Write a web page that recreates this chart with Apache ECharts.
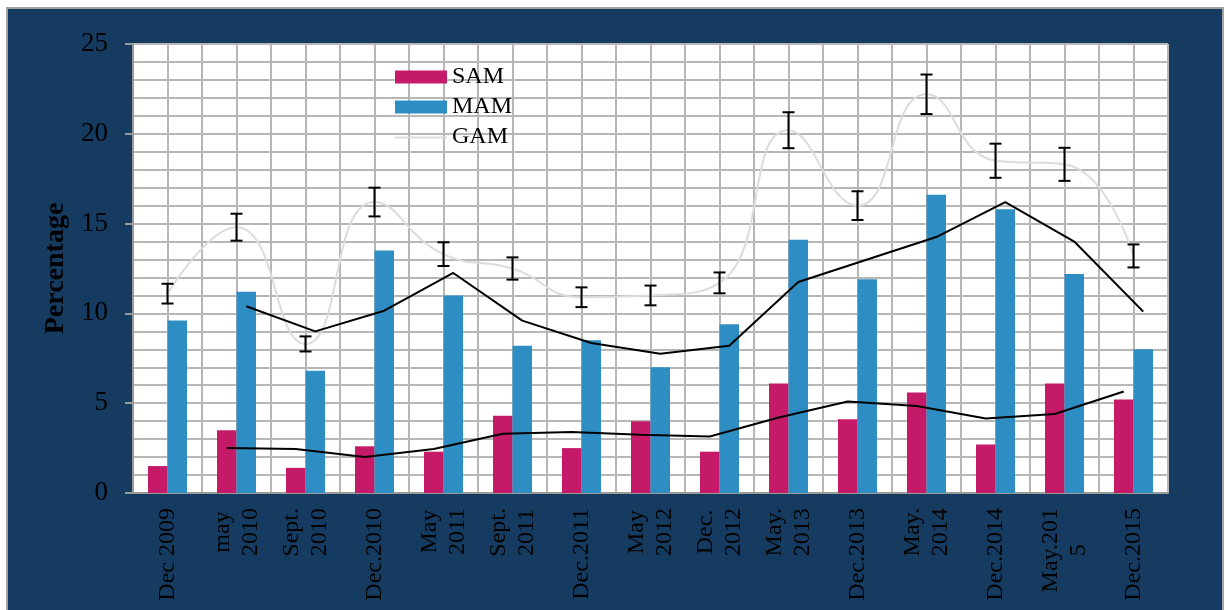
<!DOCTYPE html>
<html>
<head>
<meta charset="utf-8">
<script src="https://cdn.jsdelivr.net/npm/echarts@6/dist/echarts.min.js"></script>
<style>
  body { margin: 0; background: #fff; }
  #frame { position: absolute; left: 6px; top: 7px; width: 1218px; height: 620px; box-sizing: border-box;
           border: 2px solid #a3a3a3; background: #153b60; }
  #main { position: absolute; left: 0; top: 0; width: 1225px; height: 610px; }
</style>
</head>
<body>
<div id="frame"></div>
<div id="main"></div>
<script>
var categories = ['Dec 2009', 'may\n2010', 'Sept.\n2010', 'Dec.2010', 'May\n2011', 'Sept.\n2011', 'Dec.2011',
    'May\n2012', 'Dec.\n2012', 'May.\n2013', 'Dec.2013', 'May.\n2014', 'Dec.2014', 'May.201\n5', 'Dec.2015'];
var sam = [1.5, 3.5, 1.4, 2.6, 2.3, 4.3, 2.5, 4.0, 2.3, 6.1, 4.1, 5.6, 2.7, 6.1, 5.2];
var mam = [9.6, 11.2, 6.8, 13.5, 11.0, 8.2, 8.5, 7.0, 9.4, 14.1, 11.9, 16.6, 15.8, 12.2, 8.0];
var gam = [11.1, 14.8, 8.3, 16.2, 13.3, 12.5, 10.9, 11.0, 11.7, 20.2, 16.0, 22.2, 18.5, 18.3, 13.2];
var gamErr = [0.55, 0.75, 0.42, 0.8, 0.66, 0.62, 0.55, 0.55, 0.58, 1.0, 0.8, 1.1, 0.95, 0.92, 0.64];
// trend lines (2-point moving average), starting at the 2nd category
var samTrend = [2.5, 2.45, 2.0, 2.45, 3.3, 3.4, 3.25, 3.15, 4.2, 5.1, 4.85, 4.15, 4.4, 5.65];
var mamTrend = [10.4, 9.0, 10.15, 12.25, 9.6, 8.35, 7.75, 8.2, 11.75, 13.0, 14.25, 16.2, 14.0, 10.1];

var FONT = 'Liberation Serif';
var GRID_C = '#b7b7b7';
var BAR_W = 19.5;
var plotW = 1225 - 133 - 57;
var off = BAR_W / 2 / (plotW / categories.length);

var myChart = echarts.init(document.getElementById('main'));

var errData = gam.map(function (v, i) { return [i, v - gamErr[i], v + gamErr[i]]; });
var samTrendData = samTrend.map(function (v, k) { return [k + 1 + 0.5 - off, v]; });
var mamTrendData = mamTrend.map(function (v, k) { return [k + 1 + 0.5 + off, v]; });

var option = {
    backgroundColor: 'transparent',
    animation: false,
    grid: {
        left: 133, right: 57, top: 44, bottom: 117,
        show: true, backgroundColor: '#fff', borderWidth: 0
    },
    legend: {
        orient: 'vertical',
        left: 390, top: 60,
        itemWidth: 52, itemHeight: 13, itemGap: 6,
        data: [
            { name: 'SAM', icon: 'rect' },
            { name: 'MAM', icon: 'rect' },
            // thin line swatch for GAM
            { name: 'GAM', icon: 'path://M0,0 M0,6 L52,6 L52,8 L0,8 Z M52,13' }
        ],
        textStyle: { fontFamily: FONT, fontSize: 24, color: '#000', lineHeight: 24 }
    },
    xAxis: [{
        type: 'category',
        data: categories,
        axisLine: { lineStyle: { color: '#9a9a9a', width: 2 } },
        axisTick: { length: 7, lineStyle: { color: '#9a9a9a', width: 2 } },
        splitLine: { show: false },
        axisLabel: {
            interval: 0, rotate: 90, margin: 15,
            formatter: function (v) {
                return v.split('\n').map(function (s) { return '{c|' + s + '}'; }).join('\n');
            },
            rich: { c: { align: 'center', fontFamily: FONT, fontSize: 24, color: '#000', lineHeight: 28 } }
        }
    }, {
        type: 'value', min: 0, max: 15, interval: 0.5,
        show: true, position: 'bottom',
        axisLine: { show: false }, axisTick: { show: false }, axisLabel: { show: false },
        splitLine: { show: true, lineStyle: { color: GRID_C, width: 2 } }
    }],
    yAxis: {
        type: 'value', min: 0, max: 25, interval: 5,
        name: 'Percentage', nameLocation: 'middle', nameRotate: 90, nameGap: 58,
        nameTextStyle: { fontFamily: FONT, fontSize: 28, fontWeight: 'bold', color: '#000' },
        axisLine: { show: true, lineStyle: { color: '#9a9a9a', width: 2 } },
        axisTick: { show: true, length: 8, lineStyle: { color: '#9a9a9a', width: 2 } },
        axisLabel: { fontFamily: FONT, fontSize: 27, color: '#000', margin: 25 },
        splitLine: { lineStyle: { color: GRID_C, width: 2 } },
        minorTick: { show: false, splitNumber: 5 },
        minorSplitLine: { show: true, lineStyle: { color: GRID_C, width: 2 } }
    },
    series: [
        {
            name: 'SAM', type: 'bar', data: sam, barWidth: BAR_W, barGap: '0%',
            itemStyle: { color: '#c51a68' }
        },
        {
            name: 'MAM', type: 'bar', data: mam, barWidth: BAR_W, barGap: '0%',
            itemStyle: { color: '#2e8ec3' }
        },
        {
            name: 'GAM', type: 'line', data: gam, smooth: 0.5, symbol: 'none',
            lineStyle: { color: '#dcdcdc', width: 2 }, itemStyle: { color: '#dcdcdc' }, z: 3
        },
        {
            name: 'samTrend', type: 'line', xAxisIndex: 1, data: samTrendData, symbol: 'none',
            lineStyle: { color: '#000', width: 2 }, z: 4
        },
        {
            name: 'mamTrend', type: 'line', xAxisIndex: 1, data: mamTrendData, symbol: 'none',
            lineStyle: { color: '#000', width: 2 }, z: 4
        },
        {
            name: 'gamErr', type: 'custom', data: errData, z: 5,
            encode: { x: 0, y: [1, 2] },
            renderItem: function (params, api) {
                var lo = api.coord([api.value(0), api.value(1)]);
                var hi = api.coord([api.value(0), api.value(2)]);
                var w = 6;
                var st = { stroke: '#000', lineWidth: 2 };
                return {
                    type: 'group',
                    children: [
                        { type: 'line', shape: { x1: lo[0], y1: lo[1], x2: hi[0], y2: hi[1] }, style: st },
                        { type: 'line', shape: { x1: lo[0] - w, y1: lo[1], x2: lo[0] + w, y2: lo[1] }, style: st },
                        { type: 'line', shape: { x1: hi[0] - w, y1: hi[1], x2: hi[0] + w, y2: hi[1] }, style: st }
                    ]
                };
            }
        }
    ]
};
myChart.setOption(option);
</script>
</body>
</html>
